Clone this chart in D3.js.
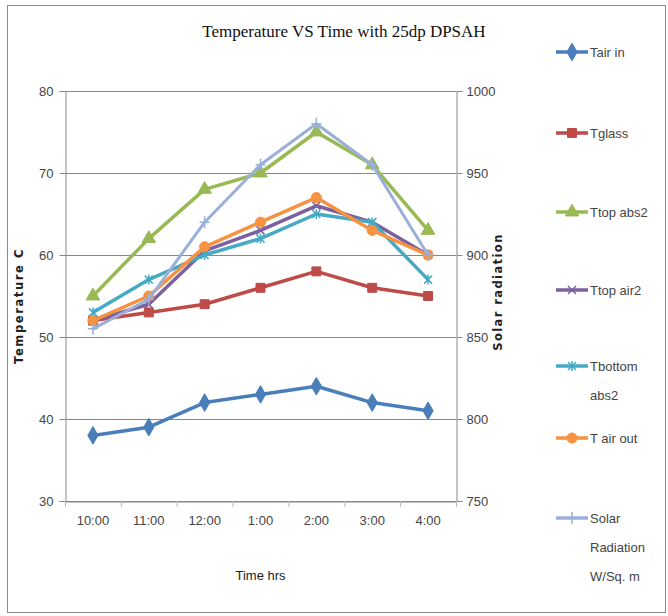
<!DOCTYPE html>
<html><head><meta charset="utf-8">
<script src="https://cdn.jsdelivr.net/npm/d3@7"></script>
<style>body{margin:0;background:#fff}</style>
</head><body>
<svg id="c" width="668" height="616"></svg>
<script>
const categories = ["10:00","11:00","12:00","1:00","2:00","3:00","4:00"];
const tairIn    = [38,39,42,43,44,42,41];
const tglass    = [52,53,54,56,58,56,55];
const ttopAbs2  = [55,62,68,70,75,71,63];
const ttopAir2  = [52,54,60.5,63,66,64,60];
const tbotAbs2  = [53,57,60,62,65,64,57];
const tairOut   = [52,55,61,64,67,63,60];
const solar     = [855,873,920,955,980,955,900];
const leftTicks = [30,40,50,60,70,80];
const rightTicks = [750,800,850,900,950,1000];

const series = [
  {name:["Tair in"], v:tairIn, color:"#4A7EBB", m:"diamond", axis:"L"},
  {name:["Tglass"], v:tglass, color:"#BE4B48", m:"square", axis:"L"},
  {name:["Ttop abs2"], v:ttopAbs2, color:"#98B954", m:"triangle", axis:"L"},
  {name:["Ttop air2"], v:ttopAir2, color:"#7D60A0", m:"x", axis:"L"},
  {name:["Tbottom","abs2"], v:tbotAbs2, color:"#46AAC5", m:"star", axis:"L"},
  {name:["T air out"], v:tairOut, color:"#F69240", m:"circle", axis:"L"},
  {name:["Solar","Radiation","W/Sq. m"], v:solar, color:"#9AB0D8", m:"plus", axis:"R"}
];

const svg = d3.select("#c");
const X0=65, X1=456, Y0=91, Y1=501;
const x = d3.scaleBand().domain(categories).range([X0,X1]);
const yL = d3.scaleLinear().domain([30,80]).range([Y1,Y0]);
const yR = d3.scaleLinear().domain([750,1000]).range([Y1,Y0]);
const fnt = "'Liberation Sans Narrow','Liberation Sans',Arial,sans-serif";

svg.append("rect").attr("x",7.5).attr("y",5.5).attr("width",658).attr("height",607)
  .attr("fill","#fff").attr("stroke","#8a8a8a").attr("stroke-width",1);

// gridlines
svg.append("g").selectAll("line").data(leftTicks).join("line")
  .attr("x1",X0).attr("x2",X1).attr("y1",d=>Math.round(yL(d))+0.5).attr("y2",d=>Math.round(yL(d))+0.5)
  .attr("stroke","#888").attr("stroke-width",1);

// left axis
const gL = svg.append("g").attr("transform",`translate(${X0+0.5},0)`)
  .call(d3.axisLeft(yL).tickValues(leftTicks).tickSize(6).tickPadding(6).tickFormat(d3.format("d")));
// right axis
const gR = svg.append("g").attr("transform",`translate(${X1+0.5},0)`)
  .call(d3.axisRight(yR).tickValues(rightTicks).tickSize(6).tickPadding(4).tickFormat(d3.format("d")));
// bottom axis
const gB = svg.append("g").attr("transform",`translate(0,${Y1+0.5})`)
  .call(d3.axisBottom(x).tickSize(0).tickPadding(14));
// category boundary ticks
svg.append("g").selectAll("line").data(d3.range(categories.length+1)).join("line")
  .attr("x1",i=>X0+i*x.step()+0.5).attr("x2",i=>X0+i*x.step()+0.5)
  .attr("y1",Y1).attr("y2",Y1+6).attr("stroke","#bbb");
[gL,gR,gB].forEach(g=>{
  g.select(".domain").attr("stroke","#888");
  g.selectAll(".tick line").attr("stroke","#888");
  g.selectAll("text").attr("font-family",fnt).attr("font-size",13).attr("fill","#444");
});

const markerPath = {
  diamond: d3.symbol(d3.symbolDiamond, 90)(),
  square: d3.symbol(d3.symbolSquare, 80)(),
  triangle: d3.symbol(d3.symbolTriangle, 80)(),
  circle: d3.symbol(d3.symbolCircle, 80)(),
};
function drawMarker(sel, s){
  if (markerPath[s.m]) {
    sel.append("path").attr("d",markerPath[s.m]).attr("fill",s.color).attr("stroke",s.color).attr("stroke-width",1);
  } else if (s.m==="x") {
    sel.append("path").attr("d","M-4,-4L4,4M-4,4L4,-4").attr("stroke",s.color).attr("stroke-width",1.5);
  } else if (s.m==="star") {
    sel.append("path").attr("d","M-4,-4L4,4M-4,4L4,-4M0,-5L0,5").attr("stroke",s.color).attr("stroke-width",1.5);
  } else if (s.m==="plus") {
    sel.append("path").attr("d","M0,-6L0,6M-5,0L5,0").attr("stroke",s.color).attr("stroke-width",1.5);
  }
}

series.forEach(s=>{
  const yy = s.axis==="L"? yL : yR;
  const cx = (d,i)=>x(categories[i])+x.bandwidth()/2;
  const line = d3.line().x((d,i)=>cx(d,i)).y(d=>yy(d));
  const g = svg.append("g");
  g.append("path").datum(s.v).attr("d",line).attr("fill","none")
    .attr("stroke",s.color).attr("stroke-width",s.axis==="R"?3:3.5).attr("stroke-linejoin","round");
  const mk = g.selectAll("g.m").data(s.v).join("g")
    .attr("transform",(d,i)=>`translate(${cx(d,i)},${yy(d)})`);
  drawMarker(mk, s);
});

// title
svg.append("text").attr("x",344).attr("y",37).attr("text-anchor","middle")
  .attr("font-family","'Liberation Serif','Times New Roman',serif").attr("font-size",17)
  .attr("fill","#111").text("Temperature VS Time with 25dp DPSAH");

// axis titles
svg.append("text").attr("transform",`translate(23,${(Y0+Y1)/2+10}) rotate(-90)`).attr("text-anchor","middle")
  .attr("font-family","'DejaVu Sans',Verdana,sans-serif").attr("font-weight","bold").attr("font-size",11.5)
  .attr("letter-spacing",1.6).attr("fill","#222").text("Temperature C");
svg.append("text").attr("transform",`translate(502,${(Y0+Y1)/2-4}) rotate(-90)`).attr("text-anchor","middle")
  .attr("font-family","'DejaVu Sans',Verdana,sans-serif").attr("font-weight","bold").attr("font-size",11.5)
  .attr("letter-spacing",1.4).attr("fill","#222").text("Solar radiation");
svg.append("text").attr("x",(X0+X1)/2).attr("y",580).attr("text-anchor","middle")
  .attr("font-family",fnt).attr("font-size",13).attr("fill","#222").text("Time hrs");

// legend
const legY = [52,133,212,290,366,438,518];
series.forEach((s,i)=>{
  const g = svg.append("g").attr("transform",`translate(556,${legY[i]})`);
  g.append("line").attr("x1",0).attr("x2",32).attr("y1",0).attr("y2",0).attr("stroke",s.color).attr("stroke-width",3.5);
  const m = g.append("g").attr("transform","translate(16,0)");
  drawMarker(m, s);
  s.name.forEach((t,j)=>{
    g.append("text").attr("x",34).attr("y",5+j*29).attr("font-family",fnt).attr("font-size",13)
      .attr("fill","#444").text(t);
  });
});
</script>
</body></html>
